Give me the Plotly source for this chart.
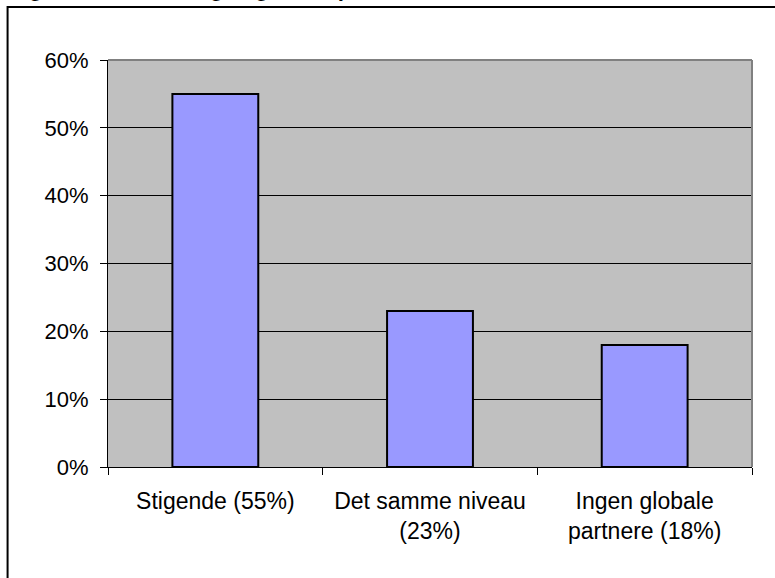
import plotly.graph_objects as go

# Data
categories = ["Stigende (55%)", "Det samme niveau<br>(23%)", "Ingen globale<br>partnere (18%)"]
shares = [0.55, 0.23, 0.18]
y_ticks = [0, 0.1, 0.2, 0.3, 0.4, 0.5, 0.6]
y_tick_labels = ["0%", "10%", "20%", "30%", "40%", "50%", "60%"]
title_text = "Figur 6: Forventning til globale partnere"

FONT = "Liberation Sans, Arial, sans-serif"

W, H = 775, 578
L, R, T, B = 107.5, 23, 59.5, 111
pw, ph = W - L - R, H - T - B


def px_to_paper_x(px):
    return (px - L) / pw


def px_to_paper_y(py):
    return (H - B - py) / ph


fig = go.Figure(
    go.Bar(
        x=categories,
        y=shares,
        marker=dict(color="#9999FF", line=dict(color="black", width=2)),
        width=0.4,
        hoverinfo="skip",
    )
)

fig.update_layout(
    width=W,
    height=H,
    margin=dict(l=L, r=R, t=T, b=B, pad=0),
    paper_bgcolor="white",
    plot_bgcolor="#C0C0C0",
    showlegend=False,
    font=dict(family=FONT, color="black"),
)

fig.update_xaxes(
    type="category",
    tickson="boundaries",
    ticks="outside",
    ticklen=7,
    tickwidth=1,
    tickcolor="black",
    showline=True,
    linecolor="black",
    linewidth=1,
    showgrid=False,
    tickfont=dict(family=FONT, size=23, color="black"),
    ticklabelstandoff=13,
)

fig.update_yaxes(
    range=[0, 0.6],
    tickvals=y_ticks,
    ticktext=y_tick_labels,
    ticks="outside",
    ticklen=7,
    tickwidth=1,
    tickcolor="black",
    showline=True,
    linecolor="black",
    linewidth=1,
    showgrid=True,
    gridcolor="black",
    gridwidth=1,
    zeroline=False,
    tickfont=dict(family=FONT, size=22, color="black"),
    ticklabelstandoff=7,
)

# Grey plot-area border on top and right
fig.add_shape(type="line", xref="paper", yref="paper", x0=0, x1=1, y0=1, y1=1,
              line=dict(color="#808080", width=2))
fig.add_shape(type="line", xref="paper", yref="paper", x0=1, x1=1, y0=0, y1=1,
              line=dict(color="#808080", width=2))

# Outer chart frame (extends past the page on the right and bottom)
fig.add_shape(type="rect", xref="paper", yref="paper",
              x0=px_to_paper_x(7), x1=px_to_paper_x(800),
              y0=px_to_paper_y(600), y1=px_to_paper_y(6.5),
              line=dict(color="black", width=2), fillcolor="rgba(0,0,0,0)")

# Caption above the frame, cut off at the page top
fig.add_annotation(
    text="<b><i>" + title_text + "</i></b>",
    xref="paper", yref="paper",
    x=px_to_paper_x(8), y=px_to_paper_y(2.5),
    xanchor="left", yanchor="bottom",
    showarrow=False,
    font=dict(family=FONT, size=22, color="black"),
)

fig.write_html("out.html")
